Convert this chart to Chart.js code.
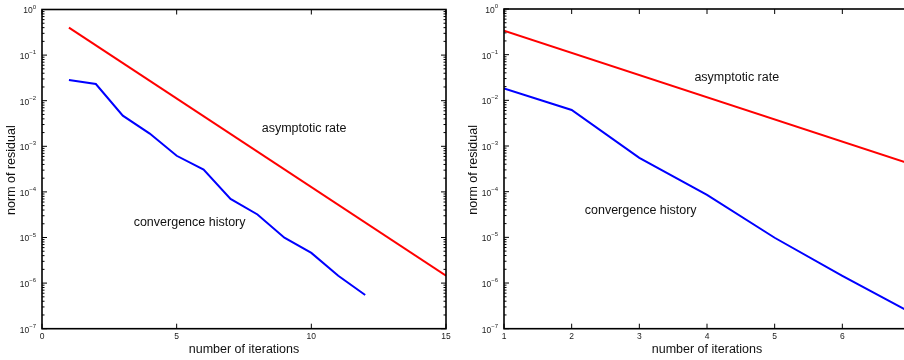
<!DOCTYPE html>
<html>
<head>
<meta charset="utf-8">
<script src="https://cdn.jsdelivr.net/npm/chart.js@4/dist/chart.umd.min.js"></script>
<style>
  html, body { margin: 0; padding: 0; background: #fff; overflow: hidden; width: 904px; height: 360px; }
  canvas { position: absolute; top: 0; }
  #c1 { left: 0; }
  #c2 { left: 452px; }
</style>
</head>
<body>
<canvas id="c1" width="452" height="360"></canvas>
<canvas id="c2" width="470" height="360"></canvas>
<script>
// ---- data ----
const leftIterations = [1, 2, 3, 4, 5, 6, 7, 8, 9, 10, 11, 12];
const leftHistory = [0.0284, 0.0232, 0.0047, 0.0019, 6.2e-4, 3.1e-4, 7.0e-5, 3.2e-5, 9.9e-6, 4.6e-6, 1.45e-6, 5.5e-7];
const leftRateIterations = [1, 15];
const leftRate = [0.40, 1.45e-6];

const rightIterations = [1, 2, 3, 4, 5, 6, 7];
const rightHistory = [0.0183, 0.00615, 5.5e-4, 8.5e-5, 9.8e-6, 1.43e-6, 2.3e-7];
const rightRateIterations = [1, 7];
const rightRate = [0.335, 4.1e-4];

const leftXTicks = [0, 5, 10, 15];
const rightXTicks = [1, 2, 3, 4, 5, 6, 7];
const yExponents = [0, -1, -2, -3, -4, -5, -6, -7];

const xTitle = 'number of iterations';
const yTitle = 'norm of residual';
const rateLabel = 'asymptotic rate';
const historyLabel = 'convergence history';

const FONT = '"Liberation Sans", Arial, Helvetica, sans-serif';

function pts(xs, ys) { return xs.map((x, i) => ({ x: x, y: ys[i] })); }

function axesPlugin(xTicks, notes) {
  return {
    id: 'matlabAxes',
    afterDraw(chart) {
      const ctx = chart.ctx;
      const a = chart.chartArea;
      const xs = chart.scales.x, ys = chart.scales.y;
      ctx.save();
      ctx.strokeStyle = '#000';
      ctx.fillStyle = '#000';
      // box
      ctx.lineWidth = 1.6;
      ctx.strokeRect(a.left, a.top, a.right - a.left, a.bottom - a.top);
      ctx.lineWidth = 1;
      // y ticks (major + minor), inside on both sides
      ctx.beginPath();
      yExponents.forEach(e => {
        const py = ys.getPixelForValue(Math.pow(10, e));
        ctx.moveTo(a.left, py); ctx.lineTo(a.left + 5, py);
        ctx.moveTo(a.right, py); ctx.lineTo(a.right - 5, py);
        if (e < 0) {
          for (let k = 2; k <= 9; k++) {
            const pm = ys.getPixelForValue(k * Math.pow(10, e));
            ctx.moveTo(a.left, pm); ctx.lineTo(a.left + 2.5, pm);
            ctx.moveTo(a.right, pm); ctx.lineTo(a.right - 2.5, pm);
          }
        }
      });
      // x ticks
      xTicks.forEach(t => {
        const px = xs.getPixelForValue(t);
        ctx.moveTo(px, a.bottom); ctx.lineTo(px, a.bottom - 5);
        ctx.moveTo(px, a.top); ctx.lineTo(px, a.top + 5);
      });
      ctx.stroke();

      // y tick labels: 10^e
      ctx.fillStyle = '#222';
      yExponents.forEach(e => {
        const py = ys.getPixelForValue(Math.pow(10, e));
        const exp = e === 0 ? '0' : '\u2212' + (-e);
        ctx.font = '6px ' + FONT;
        const ew = ctx.measureText(exp).width;
        const right = a.left - 6;
        ctx.textAlign = 'left';
        ctx.textBaseline = 'alphabetic';
        ctx.fillText(exp, right - ew, py - 1);
        ctx.font = '8.5px ' + FONT;
        ctx.textAlign = 'right';
        ctx.textBaseline = 'middle';
        ctx.fillText('10', right - ew, py + 1.5);
      });
      // x tick labels
      ctx.font = '8.5px ' + FONT;
      ctx.textAlign = 'center';
      ctx.textBaseline = 'top';
      xTicks.forEach(t => {
        const px = xs.getPixelForValue(t);
        ctx.fillText(String(t), px, a.bottom + 4);
      });
      // axis titles
      ctx.fillStyle = '#111';
      ctx.font = '12.5px ' + FONT;
      ctx.textAlign = 'center';
      ctx.textBaseline = 'middle';
      ctx.fillText(xTitle, (a.left + a.right) / 2, a.bottom + 20.5);
      ctx.save();
      ctx.translate(a.left - 30, (a.top + a.bottom) / 2 + 1);
      ctx.rotate(-Math.PI / 2);
      ctx.fillText(yTitle, 0, 0);
      ctx.restore();
      // annotations
      notes.forEach(n => {
        ctx.fillText(n.text, xs.getPixelForValue(n.x), ys.getPixelForValue(n.y));
      });
      ctx.restore();
    }
  };
}

function makeChart(id, cfg) {
  return new Chart(document.getElementById(id), {
    type: 'line',
    data: {
      datasets: [
        { data: pts(cfg.rateX, cfg.rateY), borderColor: '#ff0000', borderWidth: 2, pointRadius: 0, tension: 0, fill: false },
        { data: pts(cfg.histX, cfg.histY), borderColor: '#0000ff', borderWidth: 2, pointRadius: 0, tension: 0, fill: false }
      ]
    },
    options: {
      responsive: false,
      animation: false,
      devicePixelRatio: 1,
      layout: { padding: cfg.padding },
      plugins: { legend: { display: false }, tooltip: { enabled: false } },
      scales: {
        x: { type: 'linear', min: cfg.xMin, max: cfg.xMax, display: false },
        y: { type: 'logarithmic', min: 1e-7, max: 1, display: false }
      }
    },
    plugins: [axesPlugin(cfg.xTicks, cfg.notes)]
  });
}

makeChart('c1', {
  rateX: leftRateIterations, rateY: leftRate,
  histX: leftIterations, histY: leftHistory,
  xMin: 0, xMax: 15, xTicks: leftXTicks,
  padding: { left: 42, right: 6, top: 9.5, bottom: 31.3 },
  notes: [
    { text: rateLabel, x: 9.73, y: 2.4e-3 },
    { text: historyLabel, x: 5.48, y: 2.1e-5 }
  ]
});

makeChart('c2', {
  rateX: rightRateIterations, rateY: rightRate,
  histX: rightIterations, histY: rightHistory,
  xMin: 1, xMax: 7, xTicks: rightXTicks,
  padding: { left: 52, right: 12, top: 9, bottom: 31.3 },
  notes: [
    { text: rateLabel, x: 4.44, y: 0.031 },
    { text: historyLabel, x: 3.02, y: 3.8e-5 }
  ]
});
</script>
</body>
</html>
